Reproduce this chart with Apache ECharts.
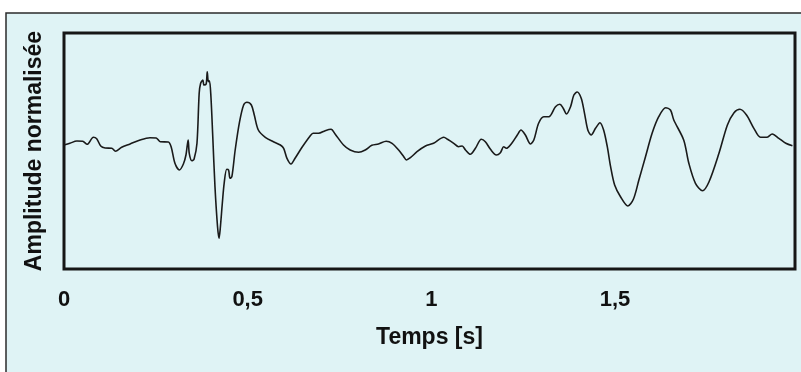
<!DOCTYPE html>
<html>
<head>
<meta charset="utf-8">
<script src="https://cdn.jsdelivr.net/npm/echarts@6/dist/echarts.min.js"></script>
<style>
  html, body { margin: 0; padding: 0; background: #ffffff; }
  #chart { width: 801px; height: 372px; }
</style>
</head>
<body>
<div id="chart"></div>
<script>
// temps (s) et amplitude normalisée
var temps = [
  0.000, 0.016, 0.035, 0.051, 0.063, 0.080, 0.089, 0.100, 0.112, 0.130,
  0.140, 0.157, 0.180, 0.207, 0.234, 0.251, 0.262, 0.284, 0.292, 0.302,
  0.314, 0.325, 0.332, 0.338, 0.341, 0.348, 0.354, 0.362, 0.368, 0.372,
  0.378, 0.381, 0.387, 0.390, 0.393, 0.396, 0.400, 0.405, 0.411, 0.418,
  0.422, 0.425, 0.431, 0.436, 0.443, 0.448, 0.452, 0.457, 0.466, 0.478,
  0.489, 0.498, 0.510, 0.518, 0.529, 0.548, 0.570, 0.589, 0.598, 0.607,
  0.618, 0.629, 0.648, 0.670, 0.678, 0.693, 0.711, 0.727, 0.738, 0.761,
  0.779, 0.802, 0.820, 0.838, 0.856, 0.877, 0.893, 0.911, 0.925, 0.932,
  0.943, 0.961, 0.984, 1.006, 1.034, 1.044, 1.061, 1.074, 1.084, 1.093,
  1.106, 1.120, 1.136, 1.147, 1.161, 1.177, 1.188, 1.197, 1.204, 1.220,
  1.234, 1.244, 1.256, 1.270, 1.279, 1.292, 1.306, 1.320, 1.338, 1.350,
  1.359, 1.368, 1.379, 1.388, 1.397, 1.408, 1.417, 1.426, 1.435, 1.447,
  1.459, 1.469, 1.479, 1.488, 1.499, 1.515, 1.535, 1.550, 1.565, 1.583,
  1.601, 1.619, 1.638, 1.651, 1.660, 1.687, 1.701, 1.719, 1.738, 1.756,
  1.783, 1.806, 1.824, 1.840, 1.858, 1.878, 1.896, 1.913, 1.928, 1.946,
  1.965, 1.983
];
var amplitude = [
  0.000, 0.017, 0.040, 0.037, 0.007, 0.077, 0.063, -0.010, -0.030, -0.033,
  -0.063, -0.023, 0.010, 0.050, 0.073, 0.070, 0.033, 0.030, -0.023, -0.183,
  -0.250, -0.190, -0.100, 0.050, -0.083, -0.157, -0.143, 0.017, 0.517, 0.617,
  0.650, 0.600, 0.610, 0.733, 0.633, 0.643, 0.483, 0.083, -0.417, -0.817,
  -0.933, -0.850, -0.583, -0.383, -0.243, -0.250, -0.333, -0.317, -0.050, 0.233,
  0.400, 0.427, 0.400, 0.300, 0.150, 0.077, 0.033, 0.000, -0.033, -0.133,
  -0.190, -0.133, -0.023, 0.090, 0.117, 0.117, 0.143, 0.157, 0.110, 0.000,
  -0.050, -0.073, -0.050, -0.003, 0.010, 0.037, 0.017, -0.050, -0.117, -0.150,
  -0.127, -0.067, -0.010, 0.017, 0.077, 0.057, 0.017, -0.017, -0.010, -0.050,
  -0.093, -0.033, 0.057, 0.033, -0.043, -0.100, -0.077, -0.017, -0.033, 0.023,
  0.100, 0.150, 0.100, 0.010, 0.050, 0.217, 0.283, 0.283, 0.383, 0.407,
  0.367, 0.310, 0.383, 0.500, 0.530, 0.467, 0.317, 0.150, 0.100, 0.167,
  0.223, 0.150, -0.017, -0.217, -0.400, -0.517, -0.610, -0.543, -0.350, -0.117,
  0.117, 0.283, 0.373, 0.350, 0.250, 0.050, -0.183, -0.383, -0.457, -0.367,
  -0.083, 0.200, 0.323, 0.357, 0.300, 0.167, 0.077, 0.077, 0.110, 0.067,
  0.017, -0.007
];
var tickLabels = [0, 0.5, 1, 1.5];

var fond = '#dff3f5';
var police = '"Liberation Sans", Arial, sans-serif';

var chart = echarts.init(document.getElementById('chart'));

var points = temps.map(function (t, i) {
  return [t, amplitude[i]];
});

var option = {
  backgroundColor: '#ffffff',
  animation: false,
  graphic: [
    {
      type: 'rect',
      z: -10,
      silent: true,
      shape: { x: 6, y: 13, width: 810, height: 380 },
      style: { fill: fond, stroke: '#2b2b2b', lineWidth: 1.5 }
    }
  ],
  grid: {
    left: 64,
    top: 33,
    width: 731,
    height: 236,
    show: true,
    backgroundColor: fond,
    borderColor: '#161616',
    borderWidth: 3
  },
  xAxis: {
    type: 'value',
    min: 0,
    max: 1.99,
    interval: 0.5,
    name: 'Temps [s]',
    nameLocation: 'middle',
    nameGap: 57,
    nameTextStyle: {
      color: '#111',
      fontFamily: police,
      fontWeight: 'bold',
      fontSize: 23
    },
    axisLine: { show: false },
    axisTick: { show: false },
    splitLine: { show: false },
    axisLabel: {
      margin: 20,
      color: '#111',
      fontFamily: police,
      fontWeight: 'bold',
      fontSize: 22,
      formatter: function (v) {
        for (var i = 0; i < tickLabels.length; i++) {
          if (Math.abs(v - tickLabels[i]) < 1e-6) {
            return String(tickLabels[i]).replace('.', ',');
          }
        }
        return '';
      }
    }
  },
  yAxis: {
    type: 'value',
    min: -1.24,
    max: 1.12,
    name: 'Amplitude normalisée',
    nameLocation: 'middle',
    nameGap: 18,
    nameTextStyle: {
      color: '#111',
      fontFamily: police,
      fontWeight: 'bold',
      fontSize: 23
    },
    axisLine: { show: false },
    axisTick: { show: false },
    splitLine: { show: false },
    axisLabel: { show: false }
  },
  series: [
    {
      type: 'line',
      data: points,
      smooth: 0.3,
      symbol: 'none',
      lineStyle: { color: '#1a1a1a', width: 1.6 }
    }
  ]
};

chart.setOption(option);
</script>
</body>
</html>
